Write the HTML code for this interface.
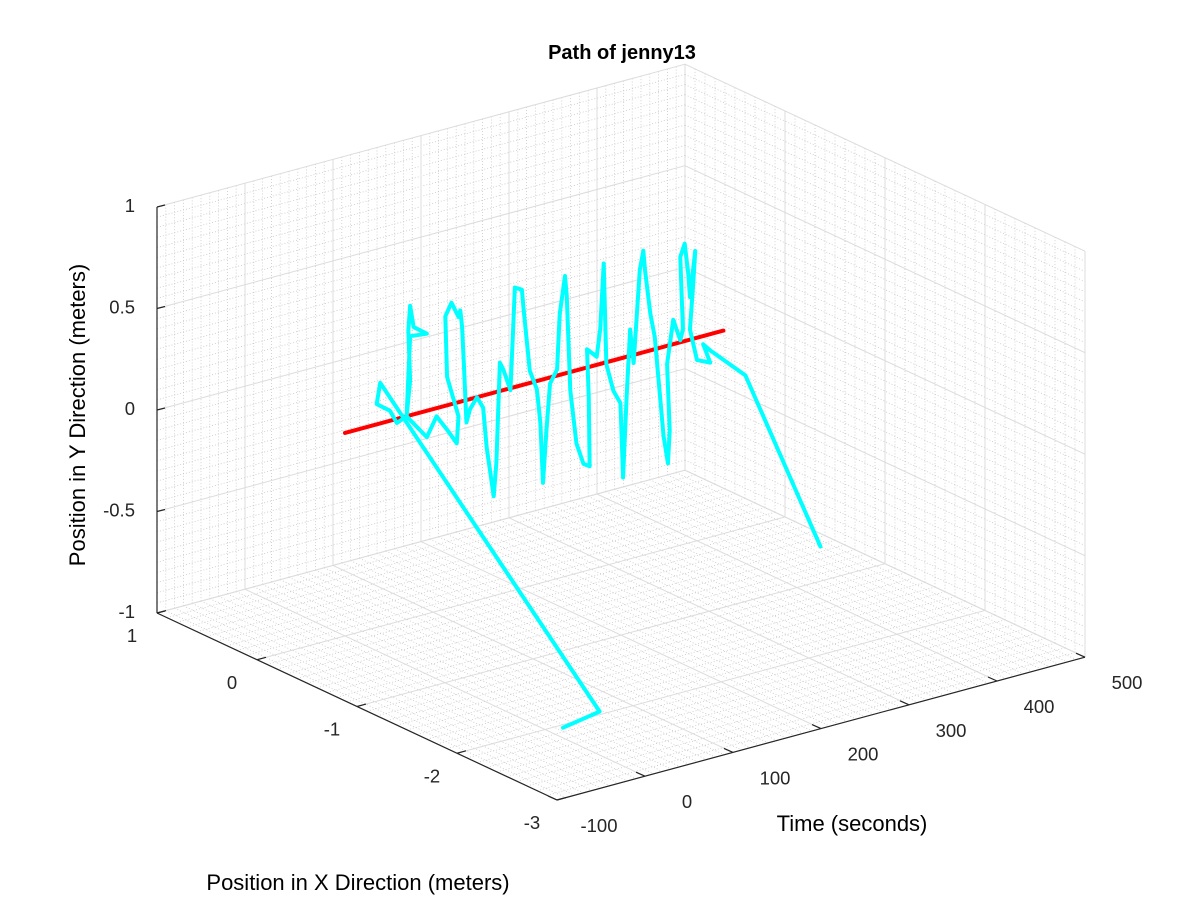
<!DOCTYPE html>
<html><head><meta charset="utf-8"><style>
body{margin:0;background:#fff;}
svg text{font-family:"Liberation Sans",Arial,sans-serif;}
</style></head><body>
<svg id="chart" width="1200" height="900" xmlns="http://www.w3.org/2000/svg">
<rect width="1200" height="900" fill="#fff"/>
<g id="grid"></g>
<g id="axes"></g>
<g id="series"></g>
<text x="622" y="59" text-anchor="middle" font-size="20" font-weight="bold">Path of jenny13</text>
<text transform="translate(85,415) rotate(-90)" text-anchor="middle" font-size="22">Position in Y Direction (meters)</text>
<text x="852" y="831" text-anchor="middle" font-size="22">Time (seconds)</text>
<text x="358" y="890" text-anchor="middle" font-size="22">Position in X Direction (meters)</text>
</svg>
<script>
const timeTicks=[-100,0,100,200,300,400,500];
const xTicks=[1,0,-1,-2,-3];
const zTicks=[-1,-0.5,0,0.5,1];
const zTickLabels=["-1","-0.5","0","0.5","1"];
const redT=[0,430];
const redX=[0,0];
const redZ=[0,0];
const pathT=[0,20,66,40,36,51,59,70,74,72,74,78,93,74,70,93,104,116,127,129,116,114,121,129,131,133,135,138,142,150,157,161,169,172,176,180,188,191,193,201,203,210,218,222,225,229,233,241,244,250,252,256,263,271,278,277,275,286,290,294,297,305,313,316,320,324,328,335,339,341,347,352,358,362,367,369,366,373,381,384,381,386,390,392,398,396,392,400,415,407,415,455,480];
const pathX=[-2.18,-2.37,0,0,0,0,0,0,0,0,0,0,0,0,0,0,0,0,0,0,0,0,0,0,0,0,0,0,0,0,0,0,0,0,0,0,0,0,0,0,0,0,0,0,0,0,0,0,0,0,0,0,0,0,0,0,0,0,0,0,0,0,0,0,0,0,0,0,0,0,0,0,0,0,0,0,0,0,0,0,0,0,0,0,0,0,0,0,0,0,0,0,-0.53];
const pathZ=[-0.95,-0.85,0.00,0.20,0.10,0.05,-0.02,0.00,0.17,0.42,0.54,0.43,0.38,0.39,0.00,-0.13,-0.04,-0.12,-0.20,-0.07,0.14,0.44,0.50,0.42,0.45,0.37,0.19,-0.11,-0.05,0.00,-0.06,-0.26,-0.51,-0.35,0.14,0.10,-0.01,0.28,0.49,0.47,0.37,0.06,-0.04,-0.21,-0.51,-0.25,-0.03,0.03,0.30,0.48,0.38,-0.09,-0.36,-0.47,-0.49,-0.15,0.09,0.04,0.17,0.49,-0.01,-0.15,-0.22,-0.59,-0.20,0.13,-0.04,0.41,0.50,0.40,0.18,0.06,-0.24,-0.44,-0.58,-0.42,-0.09,0.12,0.01,0.06,0.42,0.48,0.33,0.21,0.43,0.29,0.05,-0.11,-0.14,-0.04,-0.08,-0.25,-1.0];

function P(t,x,z){const a=t+100,b=1-x;return [157+0.88*a+100*b, 613-0.238*a+46.75*b-203*(z+1)];}
const NS='http://www.w3.org/2000/svg';
function line(g,p,q,stroke,w,dash,name){const l=document.createElementNS(NS,'line');
l.setAttribute('x1',p[0]);l.setAttribute('y1',p[1]);l.setAttribute('x2',q[0]);l.setAttribute('y2',q[1]);
l.setAttribute('stroke',stroke);l.setAttribute('stroke-width',w);if(dash)l.setAttribute('stroke-dasharray',dash);


g.appendChild(l);}
function txt(g,x,y,s,anchor,name){const t=document.createElementNS(NS,'text');t.setAttribute('x',x);t.setAttribute('y',y);
t.setAttribute('text-anchor',anchor);t.setAttribute('font-size','18.5');t.setAttribute('fill','#262626');t.textContent=s;


g.appendChild(t);}
const grid=document.getElementById('grid'),axes=document.getElementById('axes'),ser=document.getElementById('series');
const minC='#c8c8c8',majC='#dcdcdc';
for(let t=-100;t<=500;t+=10){ if(t%100===0)continue;
 line(grid,P(t,1,-1),P(t,1,1),minC,0.8,'1,2','minor-grid-line');
 line(grid,P(t,1,-1),P(t,-3,-1),minC,0.8,'1,2','minor-grid-line');}
for(let i=-30;i<=10;i++){ if(i%10===0)continue; const x=i/10;
 line(grid,P(500,x,-1),P(500,x,1),minC,0.8,'1,2','minor-grid-line');
 line(grid,P(-100,x,-1),P(500,x,-1),minC,0.8,'1,2','minor-grid-line');}
for(let i=-20;i<=20;i++){ if(i%10===0)continue; const z=i/20;
 line(grid,P(-100,1,z),P(500,1,z),minC,0.8,'1,2','minor-grid-line');
 line(grid,P(500,1,z),P(500,-3,z),minC,0.8,'1,2','minor-grid-line');}
timeTicks.forEach(t=>{line(grid,P(t,1,-1),P(t,1,1),majC,1,null,'major-grid-line');line(grid,P(t,1,-1),P(t,-3,-1),majC,1,null,'major-grid-line');});
xTicks.forEach(x=>{line(grid,P(500,x,-1),P(500,x,1),majC,1,null,'major-grid-line');line(grid,P(-100,x,-1),P(500,x,-1),majC,1,null,'major-grid-line');});
zTicks.forEach(z=>{line(grid,P(-100,1,z),P(500,1,z),majC,1,null,'major-grid-line');line(grid,P(500,1,z),P(500,-3,z),majC,1,null,'major-grid-line');});
line(axes,P(-100,1,-1),P(-100,1,1),'#262626',1.2,null,'y-axis-line');
line(axes,P(-100,1,-1),P(-100,-3,-1),'#262626',1.2,null,'x-axis-line');
line(axes,P(-100,-3,-1),P(500,-3,-1),'#262626',1.2,null,'time-axis-line');
zTicks.forEach((z,i)=>{const p=P(-100,1,z);line(axes,p,[p[0]+8,p[1]-2],'#262626',1.2,null,'y-tick');txt(axes,p[0]-22,p[1]+5,zTickLabels[i],'end','y-tick-label');});
xTicks.forEach(x=>{const p=P(-100,x,-1);line(axes,p,[p[0]+9,p[1]-2.4],'#262626',1.2,null,'x-tick');txt(axes,p[0]-25,p[1]+29,String(x),'middle','x-tick-label');});
timeTicks.forEach(t=>{const p=P(t,-3,-1);line(axes,p,[p[0]-9,p[1]-4],'#262626',1.2,null,'time-tick');txt(axes,p[0]+42,p[1]+32,String(t),'middle','time-tick-label');});
function poly(T,X,Z,color,w,name){const pl=document.createElementNS(NS,'polyline');
pl.setAttribute('points',T.map((t,i)=>P(t,X[i],Z[i]).join(',')).join(' '));
pl.setAttribute('fill','none');pl.setAttribute('stroke',color);pl.setAttribute('stroke-width',w);
pl.setAttribute('stroke-linejoin','round');pl.setAttribute('stroke-linecap','round');


ser.appendChild(pl);}
poly(redT,redX,redZ,'#ff0000',4,'reference-line');
poly(pathT,pathX,pathZ,'#00ffff',4,'walking-path');
</script>
</body></html>
